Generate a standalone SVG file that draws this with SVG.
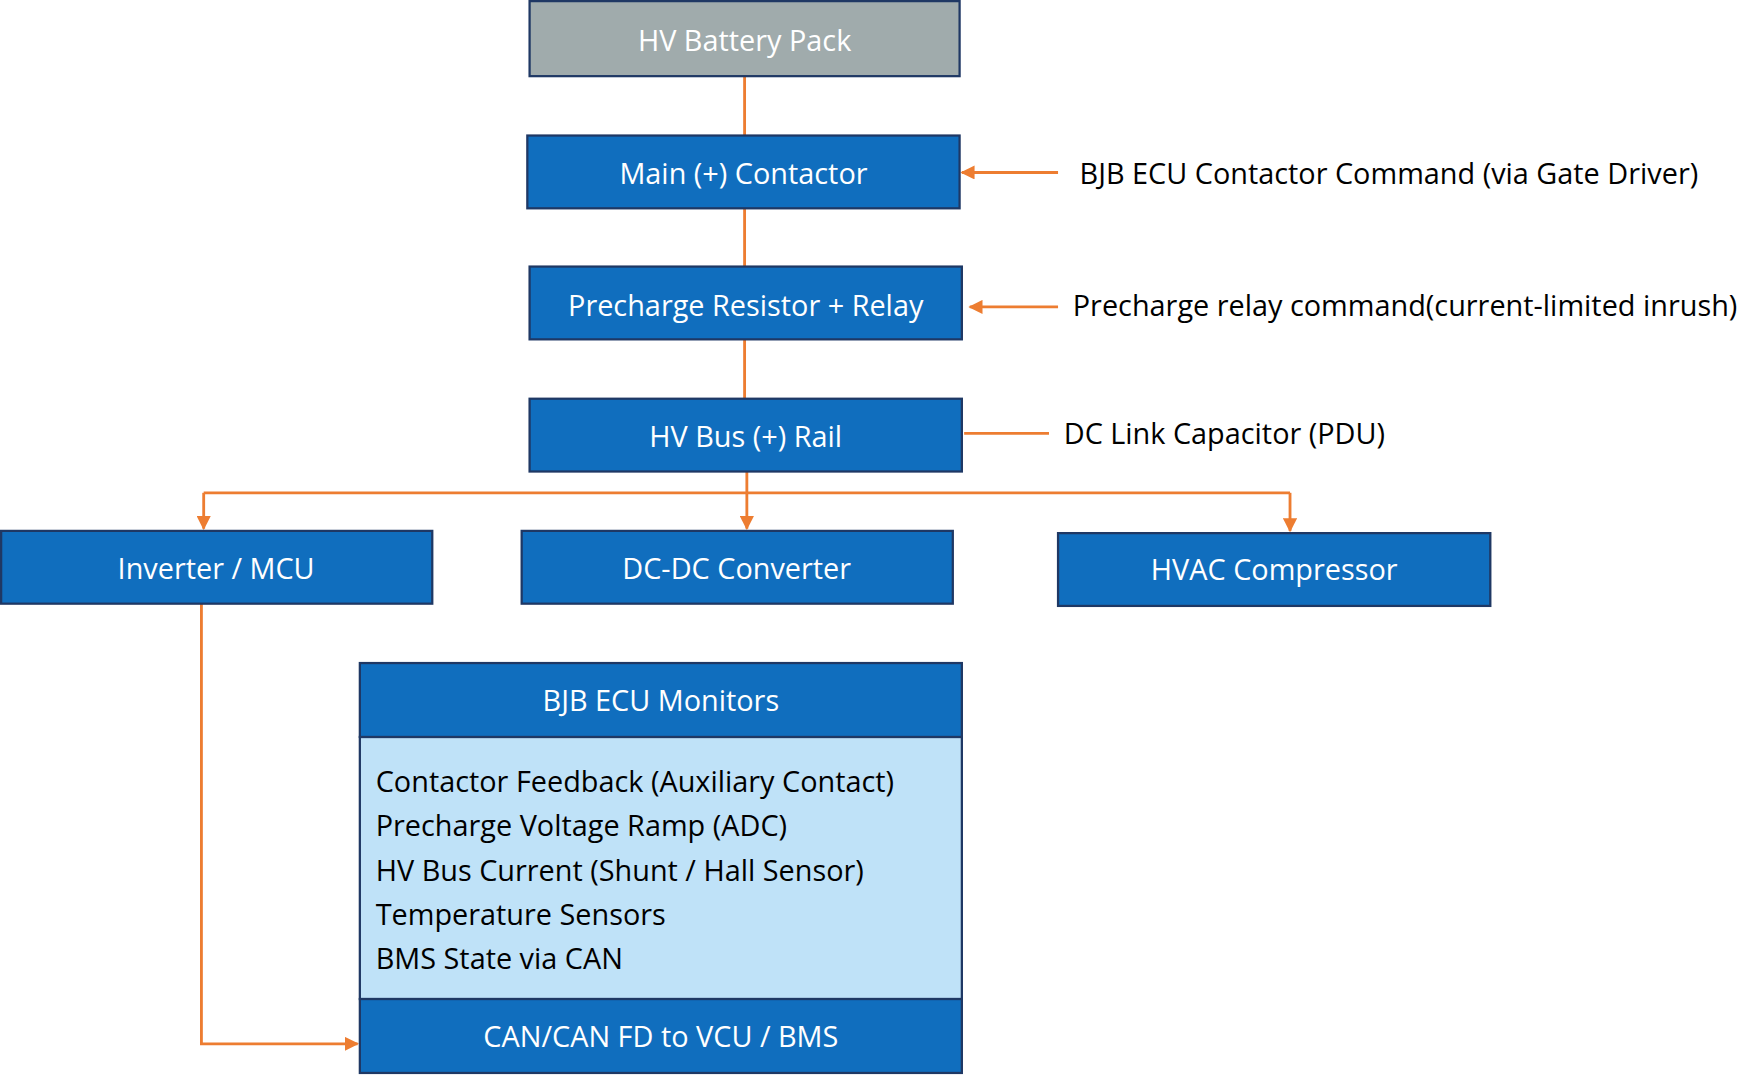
<svg xmlns="http://www.w3.org/2000/svg" width="1754" height="1075" viewBox="0 0 1754 1075">
<style>
.b{fill:#106ebe;stroke:#1f3864;stroke-width:2}
.t{font-family:"Open Sans","Noto Sans",sans-serif;font-size:25.5px;fill:#fff;text-anchor:middle;dominant-baseline:central}
.l{font-family:"Open Sans","Noto Sans",sans-serif;font-size:25.5px;fill:#000;dominant-baseline:central}
.c{stroke:#ed7d31;stroke-width:2.5;fill:none}
</style>
<defs><marker id="a" viewBox="0 0 10 10" refX="9" refY="5" markerWidth="5" markerHeight="5" orient="auto"><path d="M0,0L10,5L0,10z" fill="#ed7d31"/></marker></defs>
<rect width="1754" height="1075" fill="#fff"/>
<g transform="scale(1.1316,1.12)">
<g id="connectors">
<path class="c" d="M658,68V121M658,186V238M658,303V356"/>
<path class="c" d="M935,154H850" marker-end="url(#a)"/>
<path class="c" d="M935,274H857" marker-end="url(#a)"/>
<path class="c" d="M852,387H927"/>
<path class="c" d="M660,421V472" marker-end="url(#a)"/>
<path class="c" d="M180,440H1140"/>
<path class="c" d="M180,440V472" marker-end="url(#a)"/>
<path class="c" d="M1140,440V474" marker-end="url(#a)"/>
<path class="c" d="M178,539V932H316" marker-end="url(#a)"/>
</g>
<g id="battery"><rect x="468" y="1" width="380" height="67" fill="#a0abac" stroke="#1f3864" stroke-width="2"/><text class="t" x="658" y="35">HV Battery Pack</text></g>
<g id="main"><rect class="b" x="466" y="121" width="382" height="65"/><text class="t" x="657" y="154">Main (+) Contactor</text></g>
<g id="precharge"><rect class="b" x="468" y="238" width="382" height="65"/><text class="t" x="659" y="272">Precharge Resistor + Relay</text></g>
<g id="bus"><rect class="b" x="468" y="356" width="382" height="65"/><text class="t" x="659" y="389">HV Bus (+) Rail</text></g>
<g id="inverter"><rect class="b" x="1" y="474" width="381" height="65"/><text class="t" x="191" y="507">Inverter / MCU</text></g>
<g id="dcdc"><rect class="b" x="461" y="474" width="381" height="65"/><text class="t" x="651" y="507">DC-DC Converter</text></g>
<g id="hvac"><rect class="b" x="935" y="476" width="382" height="65"/><text class="t" x="1126" y="508">HVAC Compressor</text></g>
<g id="monitors">
<rect x="318" y="658" width="532" height="234" fill="#bfe2f8" stroke="#1f3864" stroke-width="2"/>
<rect class="b" x="318" y="592" width="532" height="66"/><text class="t" x="584" y="625">BJB ECU Monitors</text>
<text class="l" x="332" y="697">Contactor Feedback (Auxiliary Contact)</text>
<text class="l" x="332" y="736">Precharge Voltage Ramp (ADC)</text>
<text class="l" x="332" y="776">HV Bus Current (Shunt / Hall Sensor)</text>
<text class="l" x="332" y="816">Temperature Sensors</text>
<text class="l" x="332" y="855">BMS State via CAN</text>
<rect class="b" x="318" y="892" width="532" height="66"/><text class="t" x="584" y="925">CAN/CAN FD to VCU / BMS</text>
</g>
<g id="labels">
<text class="l" x="954" y="154">BJB ECU Contactor Command (via Gate Driver)</text>
<text class="l" x="948" y="272">Precharge relay command(current-limited inrush)</text>
<text class="l" x="940" y="386">DC Link Capacitor (PDU)</text>
</g>
</g>
</svg>
